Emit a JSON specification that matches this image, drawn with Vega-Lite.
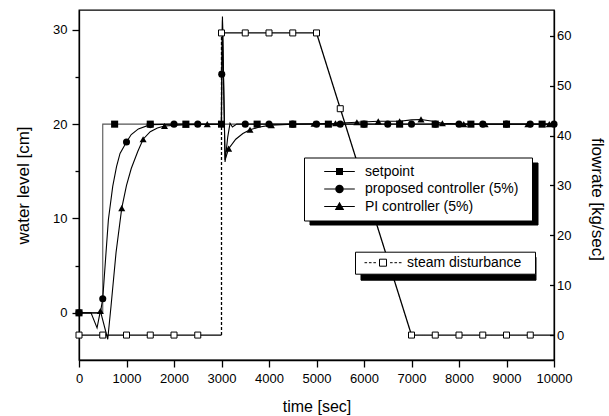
{
  "$schema": "https://vega.github.io/schema/vega-lite/v6.json",
  "width": 475,
  "height": 350,
  "autosize": {"type": "none"},
  "padding": {"left": 79, "top": 10, "right": 55, "bottom": 56},
  "background": "white",
  "config": {
    "view": {"stroke": "black", "strokeWidth": 1.3},
    "axis": {
      "domainColor": "black", "domainWidth": 1.3, "tickColor": "black", "tickWidth": 1.3,
      "labelColor": "black", "titleColor": "black", "labelFont": "Liberation Sans", "titleFont": "Liberation Sans",
      "titleFontWeight": "normal", "grid": false, "labelOverlap": false, "labelFlush": false, "labelBound": false
    },
    "legend": {"labelFont": "Liberation Sans", "labelColor": "black", "titleFont": "Liberation Sans"}
  },
  "datasets": {
    "ctrlLine": [
      {"series": "setpoint", "t": 0, "y": 0}, {"series": "setpoint", "t": 500, "y": 0}, {"series": "setpoint", "t": 500, "y": 20}, {"series": "setpoint", "t": 10000, "y": 20},
      {"series": "proposed controller (5%)", "t": 0, "y": 0}, {"series": "proposed controller (5%)", "t": 450, "y": 0}, {"series": "proposed controller (5%)", "t": 500, "y": 1.5},
      {"series": "proposed controller (5%)", "t": 569, "y": 6.4}, {"series": "proposed controller (5%)", "t": 619, "y": 9.9}, {"series": "proposed controller (5%)", "t": 710, "y": 13.4},
      {"series": "proposed controller (5%)", "t": 790, "y": 15.5}, {"series": "proposed controller (5%)", "t": 864, "y": 16.9}, {"series": "proposed controller (5%)", "t": 1000, "y": 18.1},
      {"series": "proposed controller (5%)", "t": 1100, "y": 18.9}, {"series": "proposed controller (5%)", "t": 1250, "y": 19.5}, {"series": "proposed controller (5%)", "t": 1500, "y": 19.95},
      {"series": "proposed controller (5%)", "t": 2000, "y": 20}, {"series": "proposed controller (5%)", "t": 2995, "y": 20}, {"series": "proposed controller (5%)", "t": 3005, "y": 25.3},
      {"series": "proposed controller (5%)", "t": 3020, "y": 31.4}, {"series": "proposed controller (5%)", "t": 3075, "y": 16.0}, {"series": "proposed controller (5%)", "t": 3130, "y": 18.6},
      {"series": "proposed controller (5%)", "t": 3180, "y": 20.1}, {"series": "proposed controller (5%)", "t": 3230, "y": 19.7}, {"series": "proposed controller (5%)", "t": 3320, "y": 20},
      {"series": "proposed controller (5%)", "t": 10000, "y": 20},
      {"series": "PI controller (5%)", "t": 0, "y": 0}, {"series": "PI controller (5%)", "t": 253, "y": 0}, {"series": "PI controller (5%)", "t": 380, "y": -1.6},
      {"series": "PI controller (5%)", "t": 450, "y": 0.2}, {"series": "PI controller (5%)", "t": 605, "y": -2.8}, {"series": "PI controller (5%)", "t": 674, "y": 0.7},
      {"series": "PI controller (5%)", "t": 780, "y": 6.4}, {"series": "PI controller (5%)", "t": 900, "y": 11.1}, {"series": "PI controller (5%)", "t": 1000, "y": 13.5},
      {"series": "PI controller (5%)", "t": 1100, "y": 15.3}, {"series": "PI controller (5%)", "t": 1237, "y": 17.1}, {"series": "PI controller (5%)", "t": 1350, "y": 18.4},
      {"series": "PI controller (5%)", "t": 1500, "y": 19.2}, {"series": "PI controller (5%)", "t": 1650, "y": 19.6}, {"series": "PI controller (5%)", "t": 1800, "y": 19.8},
      {"series": "PI controller (5%)", "t": 2250, "y": 19.95}, {"series": "PI controller (5%)", "t": 3000, "y": 20}, {"series": "PI controller (5%)", "t": 3020, "y": 31},
      {"series": "PI controller (5%)", "t": 3075, "y": 16.2}, {"series": "PI controller (5%)", "t": 3150, "y": 17.4}, {"series": "PI controller (5%)", "t": 3300, "y": 18.4},
      {"series": "PI controller (5%)", "t": 3450, "y": 19.0}, {"series": "PI controller (5%)", "t": 3600, "y": 19.4}, {"series": "PI controller (5%)", "t": 3800, "y": 19.7},
      {"series": "PI controller (5%)", "t": 4050, "y": 19.9}, {"series": "PI controller (5%)", "t": 4500, "y": 20}, {"series": "PI controller (5%)", "t": 4950, "y": 20.05},
      {"series": "PI controller (5%)", "t": 5400, "y": 20.1}, {"series": "PI controller (5%)", "t": 5850, "y": 20.2}, {"series": "PI controller (5%)", "t": 6300, "y": 20.3},
      {"series": "PI controller (5%)", "t": 6750, "y": 20.3}, {"series": "PI controller (5%)", "t": 7000, "y": 20.45}, {"series": "PI controller (5%)", "t": 7200, "y": 20.5},
      {"series": "PI controller (5%)", "t": 7450, "y": 20.3}, {"series": "PI controller (5%)", "t": 7650, "y": 20.1}, {"series": "PI controller (5%)", "t": 8100, "y": 20},
      {"series": "PI controller (5%)", "t": 10000, "y": 20}
    ],
    "ctrlPts": [
      {"series": "setpoint", "t": 0, "y": 0}, {"series": "setpoint", "t": 750, "y": 20}, {"series": "setpoint", "t": 1500, "y": 20}, {"series": "setpoint", "t": 2250, "y": 20},
      {"series": "setpoint", "t": 3000, "y": 20}, {"series": "setpoint", "t": 3750, "y": 20}, {"series": "setpoint", "t": 4500, "y": 20}, {"series": "setpoint", "t": 5250, "y": 20},
      {"series": "setpoint", "t": 6000, "y": 20}, {"series": "setpoint", "t": 6750, "y": 20}, {"series": "setpoint", "t": 7500, "y": 20}, {"series": "setpoint", "t": 8250, "y": 20},
      {"series": "setpoint", "t": 9000, "y": 20}, {"series": "setpoint", "t": 9750, "y": 20},
      {"series": "proposed controller (5%)", "t": 0, "y": 0}, {"series": "proposed controller (5%)", "t": 500, "y": 1.5}, {"series": "proposed controller (5%)", "t": 1000, "y": 18.1},
      {"series": "proposed controller (5%)", "t": 1500, "y": 19.95}, {"series": "proposed controller (5%)", "t": 2000, "y": 20}, {"series": "proposed controller (5%)", "t": 2500, "y": 20},
      {"series": "proposed controller (5%)", "t": 3005, "y": 25.3}, {"series": "proposed controller (5%)", "t": 3500, "y": 20}, {"series": "proposed controller (5%)", "t": 4000, "y": 20},
      {"series": "proposed controller (5%)", "t": 4500, "y": 20}, {"series": "proposed controller (5%)", "t": 5000, "y": 20}, {"series": "proposed controller (5%)", "t": 5500, "y": 20},
      {"series": "proposed controller (5%)", "t": 6000, "y": 20}, {"series": "proposed controller (5%)", "t": 6500, "y": 20}, {"series": "proposed controller (5%)", "t": 7000, "y": 20},
      {"series": "proposed controller (5%)", "t": 7500, "y": 20}, {"series": "proposed controller (5%)", "t": 8000, "y": 20}, {"series": "proposed controller (5%)", "t": 8500, "y": 20},
      {"series": "proposed controller (5%)", "t": 9000, "y": 20}, {"series": "proposed controller (5%)", "t": 9500, "y": 20}, {"series": "proposed controller (5%)", "t": 10000, "y": 20},
      {"series": "PI controller (5%)", "t": 450, "y": 0.2}, {"series": "PI controller (5%)", "t": 900, "y": 11.1}, {"series": "PI controller (5%)", "t": 1350, "y": 18.4},
      {"series": "PI controller (5%)", "t": 1800, "y": 19.8}, {"series": "PI controller (5%)", "t": 2250, "y": 19.95}, {"series": "PI controller (5%)", "t": 2700, "y": 20},
      {"series": "PI controller (5%)", "t": 3150, "y": 17.4}, {"series": "PI controller (5%)", "t": 3600, "y": 19.4}, {"series": "PI controller (5%)", "t": 4050, "y": 19.9},
      {"series": "PI controller (5%)", "t": 4500, "y": 20}, {"series": "PI controller (5%)", "t": 4950, "y": 20.05}, {"series": "PI controller (5%)", "t": 5400, "y": 20.1},
      {"series": "PI controller (5%)", "t": 5850, "y": 20.2}, {"series": "PI controller (5%)", "t": 6300, "y": 20.3}, {"series": "PI controller (5%)", "t": 6750, "y": 20.3},
      {"series": "PI controller (5%)", "t": 7200, "y": 20.5}, {"series": "PI controller (5%)", "t": 7650, "y": 20.1}, {"series": "PI controller (5%)", "t": 8100, "y": 20},
      {"series": "PI controller (5%)", "t": 8550, "y": 20}, {"series": "PI controller (5%)", "t": 9000, "y": 20}, {"series": "PI controller (5%)", "t": 9450, "y": 20},
      {"series": "PI controller (5%)", "t": 9900, "y": 20}
    ],
    "steamLine": [
      {"series": "steam disturbance", "seg": "a", "style": "solid", "t": 0, "f": 0},
      {"series": "steam disturbance", "seg": "a", "style": "solid", "t": 3000, "f": 0},
      {"series": "steam disturbance", "seg": "b", "style": "dashed", "t": 3000, "f": 0},
      {"series": "steam disturbance", "seg": "b", "style": "dashed", "t": 3000, "f": 60.6},
      {"series": "steam disturbance", "seg": "c", "style": "solid", "t": 3000, "f": 60.6},
      {"series": "steam disturbance", "seg": "c", "style": "solid", "t": 5000, "f": 60.6},
      {"series": "steam disturbance", "seg": "c", "style": "solid", "t": 7000, "f": 0},
      {"series": "steam disturbance", "seg": "c", "style": "solid", "t": 10000, "f": 0}
    ],
    "steamPts": [
      {"t": 0, "f": 0}, {"t": 500, "f": 0}, {"t": 1000, "f": 0}, {"t": 1500, "f": 0}, {"t": 2000, "f": 0}, {"t": 2500, "f": 0},
      {"t": 3000, "f": 60.6}, {"t": 3500, "f": 60.6}, {"t": 4000, "f": 60.6}, {"t": 4500, "f": 60.6}, {"t": 5000, "f": 60.6},
      {"t": 5500, "f": 45.4},
      {"t": 7000, "f": 0}, {"t": 7500, "f": 0}, {"t": 8000, "f": 0}, {"t": 8500, "f": 0}, {"t": 9000, "f": 0}, {"t": 9500, "f": 0}
    ]
  },
  "layer": [
    {
      "layer": [
        {
          "data": {"name": "ctrlLine"},
          "mark": {"type": "line", "strokeWidth": 1.1},
          "encoding": {
            "x": {"field": "t", "type": "quantitative", "scale": {"domain": [0, 10000], "nice": false, "zero": false},
              "axis": {"title": "time [sec]", "orient": "bottom",
                "values": [0, 500, 1000, 1500, 2000, 2500, 3000, 3500, 4000, 4500, 5000, 5500, 6000, 6500, 7000, 7500, 8000, 8500, 9000, 9500, 10000],
                "format": "d", "labelExpr": "datum.value % 1000 === 0 ? datum.label : ''",
                "tickSize": {"condition": {"test": "datum.value % 1000 === 0", "value": 7}, "value": 4},
                "labelPadding": 5, "labelFontSize": 13, "titleFontSize": 16, "titlePadding": 13}},
            "y": {"field": "y", "type": "quantitative", "scale": {"domain": [-5, 32.1], "nice": false, "zero": false},
              "axis": {"title": "water level [cm]", "orient": "left",
                "values": [0, 5, 10, 15, 20, 25, 30], "format": "d",
                "labelExpr": "datum.value % 10 === 0 ? datum.label : ''",
                "tickSize": {"condition": {"test": "datum.value % 10 === 0", "value": 7}, "value": 4},
                "labelPadding": 5, "labelFontSize": 13, "titleFontSize": 17, "titlePadding": 20}},
            "detail": {"field": "series"},
            "color": {"condition": {"test": "datum.series === 'setpoint'", "value": "#555555"}, "value": "black"}
          }
        },
        {
          "data": {"name": "ctrlPts"},
          "mark": {"type": "point", "filled": true, "size": 50, "opacity": 1, "color": "black", "strokeWidth": 0},
          "encoding": {
            "x": {"field": "t", "type": "quantitative", "scale": {"domain": [0, 10000], "nice": false, "zero": false}},
            "y": {"field": "y", "type": "quantitative", "scale": {"domain": [-5, 32.1], "nice": false, "zero": false}},
            "shape": {"field": "series", "type": "nominal",
              "scale": {"domain": ["setpoint", "proposed controller (5%)", "PI controller (5%)"], "range": ["square", "circle", "triangle-up"]},
              "legend": null}
          }
        },
        {
          "data": {"name": "ctrlPts"},
          "transform": [{"filter": "datum.series === 'setpoint' && datum.t === 0"}],
          "mark": {"type": "point", "filled": true, "size": 100, "opacity": 0, "fill": "black", "stroke": "black", "strokeWidth": 1},
          "encoding": {
            "x": {"field": "t", "type": "quantitative", "scale": {"domain": [0, 10000], "nice": false, "zero": false}},
            "y": {"field": "y", "type": "quantitative", "scale": {"domain": [-5, 32.1], "nice": false, "zero": false}},
            "shape": {"field": "series", "type": "nominal",
              "scale": {"range": ["M-1.1,-1.1H41.3V8.1H-1.1Z"]},
              "legend": {"orient": "none", "legendX": 230.5, "legendY": 152.5, "title": null, "zindex": 1,
                "padding": 7, "fillColor": "black", "strokeColor": "black", "labelColor": "black",
                "labelExpr": "''", "labelFontSize": 1, "labelOffset": 0, "symbolSize": 100, "symbolOffset": 0,
                "symbolStrokeWidth": 1, "symbolOpacity": 1, "symbolFillColor": "black", "symbolStrokeColor": "black"}}
          }
        },
        {
          "data": {"name": "ctrlPts"},
          "transform": [{"filter": "datum.t === 0 || datum.t === 450"}],
          "mark": {"type": "point", "filled": true, "size": 100, "opacity": 0, "fill": "black", "stroke": "black", "strokeWidth": 1},
          "encoding": {
            "x": {"field": "t", "type": "quantitative", "scale": {"domain": [0, 10000], "nice": false, "zero": false}},
            "y": {"field": "y", "type": "quantitative", "scale": {"domain": [-5, 32.1], "nice": false, "zero": false}},
            "shape": {"field": "series", "type": "nominal",
              "scale": {"domain": ["setpoint", "proposed controller (5%)", "PI controller (5%)"],
                "range": [
                  "M-3.06,-0.11H3.06V0.11H-3.06ZM-0.7,-0.7H0.7V0.7H-0.7Z",
                  "M-3.06,-0.11H3.06V0.11H-3.06ZM-0.85,0A0.85,0.85,0,1,1,0.85,0A0.85,0.85,0,1,1,-0.85,0Z",
                  "M-3.06,-0.11H3.06V0.11H-3.06ZM0,-0.95L0.95,0.7L-0.95,0.7Z"]},
              "legend": {"orient": "none", "legendX": 225, "legendY": 147.5, "title": " ", "titleOrient": "right", "titleFontSize": 14, "titlePadding": 7, "zindex": 2,
                "padding": 7, "fillColor": "white", "strokeColor": "black",
                "labelFontSize": 14, "labelOffset": 18.5, "symbolSize": 100, "symbolOffset": 21.5, "rowPadding": 3.5,
                "symbolStrokeWidth": 1, "symbolOpacity": 1, "symbolFillColor": "black", "symbolStrokeColor": "black"}}
          }
        }
      ],
      "resolve": {"scale": {"shape": "independent"}}
    },
    {
      "layer": [
        {
          "data": {"name": "steamLine"},
          "mark": {"type": "line", "strokeWidth": 1.3},
          "encoding": {
            "x": {"field": "t", "type": "quantitative", "scale": {"domain": [0, 10000], "nice": false, "zero": false}},
            "y": {"field": "f", "type": "quantitative", "scale": {"domain": [-5, 65.2], "nice": false, "zero": false},
              "axis": {"title": "flowrate [kg/sec]", "orient": "right",
                "values": [0, 5, 10, 15, 20, 25, 30, 35, 40, 45, 50, 55, 60], "format": "d",
                "labelExpr": "datum.value % 10 === 0 ? datum.label : ''",
                "tickSize": {"condition": {"test": "datum.value % 10 === 0", "value": -4.5}, "value": -3},
                "labelPadding": 7, "labelFontSize": 13, "titleFontSize": 17, "titlePadding": 17, "titleY": 189}},
            "detail": {"field": "seg"},
            "strokeDash": {"field": "style", "type": "nominal", "scale": {"domain": ["solid", "dashed"], "range": [[1, 0], [3, 2]]}, "legend": null},
            "color": {"field": "series", "type": "nominal", "scale": {"range": ["black"]},
              "legend": {"orient": "none", "legendX": 276, "legendY": 241.7, "title": " ", "titleOrient": "right", "titleFontSize": 14, "titlePadding": 10, "zindex": 2,
                "padding": 4, "fillColor": "white", "strokeColor": "black",
                "labelFontSize": 14, "labelOffset": 17, "symbolSize": 100, "symbolOffset": 17,
                "symbolType": "M-3.7,0H-3.18M-2.81,0H-2.29M-1.92,0H-1.41M1.41,0H1.92M2.29,0H2.81M3.18,0H3.7M-0.7,-0.7H0.7V0.7H-0.7Z",
                "symbolStrokeWidth": 1, "symbolOpacity": 1, "symbolFillColor": "white", "symbolStrokeColor": "black"}}
          }
        },
        {
          "data": {"name": "steamLine"},
          "mark": {"type": "point", "size": 100, "opacity": 0, "filled": true, "fill": "black", "stroke": "black", "strokeWidth": 1},
          "encoding": {
            "x": {"field": "t", "type": "quantitative", "scale": {"domain": [0, 10000], "nice": false, "zero": false}},
            "y": {"field": "f", "type": "quantitative", "scale": {"domain": [-5, 65.2], "nice": false, "zero": false}},
            "color": {"field": "series", "type": "nominal", "scale": {"range": ["black"]},
              "legend": {"orient": "none", "legendX": 281.5, "legendY": 246.7, "title": null, "zindex": 1,
                "padding": 4, "fillColor": "black", "strokeColor": "black", "labelColor": "black",
                "labelExpr": "''", "labelFontSize": 1, "labelOffset": 0, "symbolSize": 100, "symbolOffset": 0,
                "symbolType": "M-1.1,-1.35H31.9V1.35H-1.1Z",
                "symbolStrokeWidth": 1, "symbolOpacity": 1, "symbolFillColor": "black", "symbolStrokeColor": "black"}}
          }
        },
        {
          "data": {"name": "steamPts"},
          "mark": {"type": "point", "shape": "square", "filled": true, "fill": "white", "stroke": "black", "strokeWidth": 1, "size": 36, "opacity": 1},
          "encoding": {
            "x": {"field": "t", "type": "quantitative", "scale": {"domain": [0, 10000], "nice": false, "zero": false}},
            "y": {"field": "f", "type": "quantitative", "scale": {"domain": [-5, 65.2], "nice": false, "zero": false}}
          }
        }
      ],
      "resolve": {"scale": {"color": "independent"}}
    }
  ],
  "resolve": {"scale": {"y": "independent"}}
}
